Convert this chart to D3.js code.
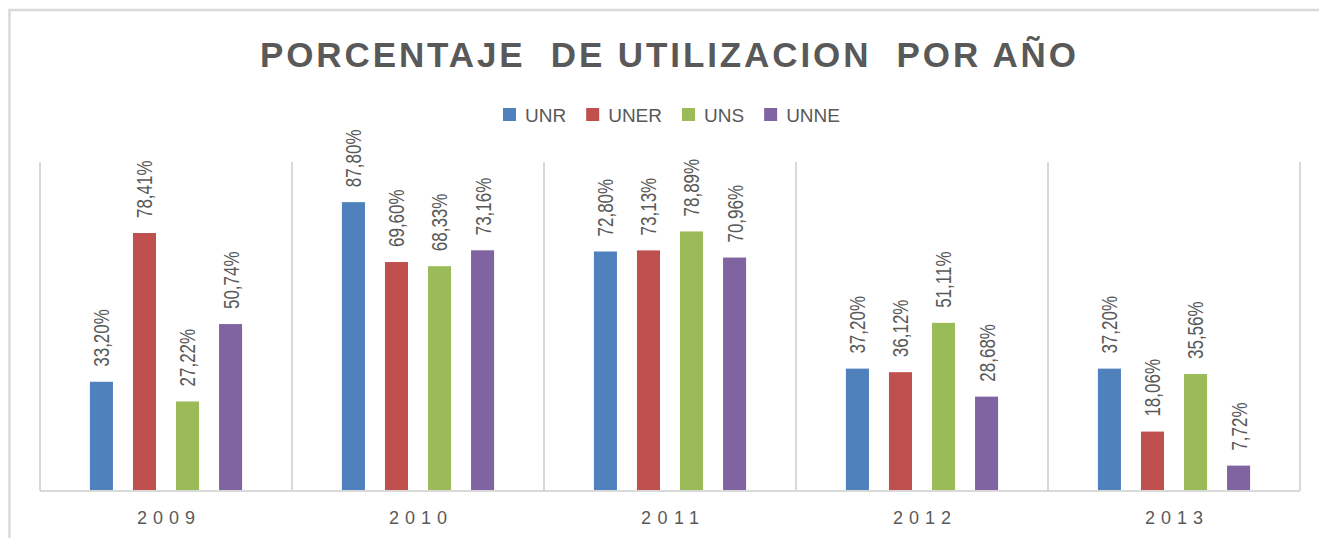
<!DOCTYPE html>
<html>
<head>
<meta charset="utf-8">
<style>
  body { margin: 0; background: #fff; }
  text { font-family: "Liberation Sans", Arial, sans-serif; fill: #595959; }
</style>
</head>
<body>
<svg id="chart" width="1319" height="538"></svg>
<script src="https://cdn.jsdelivr.net/npm/d3@7/dist/d3.min.js"></script>
<script>
var years = ['2009', '2010', '2011', '2012', '2013'];
var series = ['UNR', 'UNER', 'UNS', 'UNNE'];
var unr  = [33.20, 87.80, 72.80, 37.20, 37.20];
var uner = [78.41, 69.60, 73.13, 36.12, 18.06];
var uns  = [27.22, 68.33, 78.89, 51.11, 35.56];
var unne = [50.74, 73.16, 70.96, 28.68, 7.72];
var colors = ['#4f81bd', '#c0504d', '#9bbb59', '#8064a2'];

var values = [unr, uner, uns, unne];
var data = [];
years.forEach(function (yr, i) {
    series.forEach(function (s, j) {
        data.push({year: yr, name: s, value: values[j][i], color: colors[j]});
    });
});

var svg = d3.select('#chart');

// chart border
svg.append('rect')
    .attr('x', 9.5).attr('y', 10)
    .attr('width', 1330).attr('height', 560)
    .attr('fill', 'none')
    .attr('stroke', '#d9d9d9')
    .attr('stroke-width', 2.5);

// title
svg.append('text')
    .attr('x', 260).attr('y', 67)
    .attr('font-size', 35)
    .attr('font-weight', 'bold')
    .attr('textLength', 816)
    .attr('lengthAdjust', 'spacing')
    .style('white-space', 'pre')
    .text('PORCENTAJE  DE UTILIZACION  POR AÑO');

// plot area (window.top is reserved, so use other names)
var plotLeft = 40, plotRight = 1300, plotTop = 162, plotBottom = 491;

var x = d3.scaleBand().domain(years).range([plotLeft, plotRight]).padding(0);
var xi = d3.scaleBand().domain(series)
    .range([0, x.bandwidth()])
    .paddingInner(0.465)
    .paddingOuter(1.16);
var y = d3.scaleLinear().domain([0, 100]).range([plotBottom, plotTop]);

// category separators
svg.append('g')
    .selectAll('line')
    .data(years.concat(['end']))
    .enter()
    .append('line')
    .attr('x1', function (d, i) { return i < years.length ? x(d) : plotRight; })
    .attr('x2', function (d, i) { return i < years.length ? x(d) : plotRight; })
    .attr('y1', plotTop).attr('y2', plotBottom)
    .attr('stroke', '#d9d9d9')
    .attr('stroke-width', 2);

// bars
svg.append('g')
    .selectAll('.bar')
    .data(data)
    .enter()
    .append('rect')
    .attr('class', 'bar')
    .attr('x', function (d) { return x(d.year) + xi(d.name); })
    .attr('y', function (d) { return y(d.value); })
    .attr('width', xi.bandwidth())
    .attr('height', function (d) { return plotBottom - y(d.value); })
    .attr('fill', function (d) { return d.color; });

// x axis line
svg.append('line')
    .attr('x1', plotLeft).attr('x2', plotRight)
    .attr('y1', plotBottom).attr('y2', plotBottom)
    .attr('stroke', '#d9d9d9')
    .attr('stroke-width', 2);

// data labels (rotated)
svg.append('g')
    .selectAll('text')
    .data(data)
    .enter()
    .append('text')
    .attr('font-size', 17)
    .attr('dy', '0.36em')
    .attr('transform', function (d) {
        var cx = x(d.year) + xi(d.name) + xi.bandwidth() / 2;
        return 'translate(' + cx + ',' + (y(d.value) - 15) + ') rotate(-90) scale(1,1.3)';
    })
    .text(function (d) { return d.value.toFixed(2).replace('.', ',') + '%'; });

// year labels
svg.append('g')
    .selectAll('text')
    .data(years)
    .enter()
    .append('text')
    .attr('x', function (d) { return x(d) + x.bandwidth() / 2 - 29; })
    .attr('y', 524)
    .attr('font-size', 18)
    .attr('textLength', 58)
    .attr('lengthAdjust', 'spacing')
    .text(function (d) { return d; });

// legend
var legend = svg.append('g');
var lx = 503;
series.forEach(function (s, j) {
    legend.append('rect')
        .attr('x', lx).attr('y', 108)
        .attr('width', 13).attr('height', 13)
        .attr('fill', colors[j]);
    var t = legend.append('text')
        .attr('x', lx + 22).attr('y', 121.5)
        .attr('font-size', 19)
        .text(s);
    lx += 22 + t.node().getComputedTextLength() + 20;
});
</script>
</body>
</html>
